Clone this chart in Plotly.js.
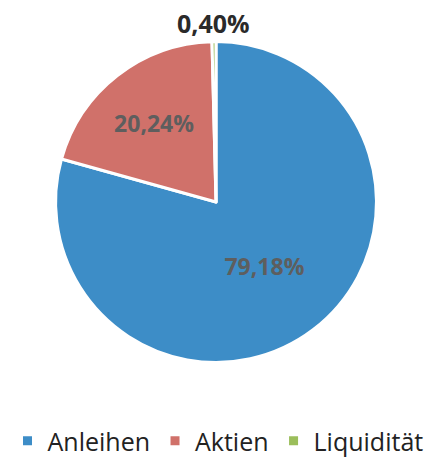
<!DOCTYPE html>
<html>
<head>
<meta charset="utf-8">
<script src="https://cdn.plot.ly/plotly-3.0.1.min.js"></script>
<style>html,body{margin:0;padding:0;background:#fff;}#chart{width:436px;height:464px;}</style>
</head>
<body>
<div id="chart"></div>
<script>
const labels = ['Anleihen', 'Aktien', 'Liquidität'];
const values = [79.18, 20.24, 0.40];
const colors = ['#3d8dc7', '#d0716a', '#9bbe5b'];

const fmt = v => v.toFixed(2).replace('.', ',') + '%';
const texts = values.map((v, i) => i === 2 ? '' : '<b>' + fmt(v) + '</b>');

const trace = {
  type: 'pie',
  labels: labels,
  values: values,
  text: texts,
  textinfo: 'text',
  sort: false,
  direction: 'clockwise',
  rotation: 0,
  marker: {colors: colors, line: {color: '#ffffff', width: 3}},
  textposition: ['inside', 'inside', 'none'],
  insidetextorientation: 'horizontal',
  textfont: {family: 'Open Sans, DejaVu Sans, sans-serif', size: 23, color: '#5e5e5e'},
  domain: {x: [0.1193, 0.8716], y: [0.2016, 0.9084]},
  hoverinfo: 'none'
};

const layout = {
  width: 436,
  height: 464,
  margin: {l: 0, r: 0, t: 0, b: 0},
  paper_bgcolor: '#ffffff',
  showlegend: true,
  legend: {
    orientation: 'h',
    x: 0.5, xanchor: 'center',
    y: 0.028, yanchor: 'middle',
    font: {family: 'Open Sans, DejaVu Sans, sans-serif', size: 25, color: '#222222'},
    itemwidth: 30,
    traceorder: 'normal'
  },
  annotations: [{
    text: '<b>' + fmt(values[2]) + '</b>',
    xref: 'paper', yref: 'paper',
    x: 0.489, y: 0.950,
    xanchor: 'center', yanchor: 'middle',
    showarrow: false,
    font: {family: 'Open Sans, DejaVu Sans, sans-serif', size: 25, color: '#2a2a2a'}
  }]
};

Plotly.newPlot('chart', [trace], layout, {displayModeBar: false, staticPlot: true});
</script>
</body>
</html>
